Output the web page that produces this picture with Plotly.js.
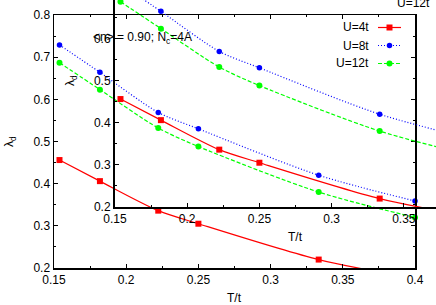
<!DOCTYPE html>
<html>
<head>
<meta charset="utf-8">
<script src="https://cdn.plot.ly/plotly-3.0.1.min.js"></script>
<style>html,body{margin:0;padding:0;background:#fff;}#chart{width:436px;height:305px;}</style>
</head>
<body>
<div id="chart"></div>
<script>
// ---- data ----
var T = [0.1538, 0.1818, 0.2222, 0.25, 0.3333, 0.4];
var U4 = [0.456, 0.406, 0.336, 0.305, 0.220, 0.175];
var U8 = [0.729, 0.664, 0.569, 0.530, 0.420, 0.359];
var U12 = [0.687, 0.623, 0.532, 0.488, 0.380, 0.320];
var seriesNames = ['U=4t', 'U=8t', 'U=12t'];
var xTitle = 'T/t';
var yTitle = 'λ<sub>d</sub>';
var note = '&lt;n&gt; = 0.90; N<sub>c</sub>=4A';

// ---- layout helpers (pixel -> paper) ----
var W = 436, H = 305;
function px(x) { return x / W; }
function py(y) { return 1 - y / H; }
var FONT = {family: 'Liberation Sans, Arial, sans-serif', size: 12, color: '#000'};

var styles = [
  {color: '#ff0000', dash: 'solid', symbol: 'square', size: 6},
  {color: '#0000ff', dash: '1px,2px', symbol: 'circle', size: 5.5},
  {color: '#00ff00', dash: '4px,2px', symbol: 'circle', size: 6}
];
var values = [U4, U8, U12];

var traces = [];
// main plot + shifted duplicate plot (inset-like overlay)
[['x', 'y'], ['x2', 'y2']].forEach(function (ax) {
  values.forEach(function (v, i) {
    traces.push({
      x: T, y: v, xaxis: ax[0], yaxis: ax[1], name: seriesNames[i],
      type: 'scatter', mode: 'lines+markers', showlegend: false, cliponaxis: false,
      line: {color: styles[i].color, width: 1.2, dash: styles[i].dash, shape: 'spline', smoothing: 0.8},
      marker: {color: styles[i].color, symbol: styles[i].symbol, size: styles[i].size, line: {width: 0}}
    });
  });
});

// main plot area: x 54..415, y 15..268 px
var mainX0 = 54, mainX1 = 415, mainY0 = 15, mainY1 = 268;
var shift = 61;
var pxPerX = (mainX1 - mainX0) / 0.25;
var pxPerY = (mainY1 - mainY0) / 0.6;

function axisCommon() {
  return {
    showline: true, linecolor: '#000', linewidth: 1.5, ticks: 'inside', ticklen: 4,
    tickwidth: 1, tickcolor: '#000', showgrid: false, zeroline: false,
    tickfont: FONT, fixedrange: true
  };
}
var xaxis = Object.assign(axisCommon(), {
  domain: [px(mainX0), px(mainX1)], range: [0.15, 0.4], anchor: 'y',
  tickmode: 'linear', tick0: 0.15, dtick: 0.05, mirror: 'ticks',
  minor: {ticks: 'inside', ticklen: 2, dtick: 0.025, tick0: 0.15, tickcolor: '#000'}
});
var yaxis = Object.assign(axisCommon(), {
  domain: [py(mainY1), py(mainY0)], range: [0.2, 0.8], anchor: 'x',
  tickmode: 'linear', tick0: 0.2, dtick: 0.1, mirror: 'ticks',
  minor: {ticks: 'inside', ticklen: 2, dtick: 0.05, tick0: 0.2, tickcolor: '#000'}
});
var insX0 = mainX0 + shift, insY1 = mainY1 - shift;
var xaxis2 = Object.assign(axisCommon(), {
  domain: [px(insX0), 1], range: [0.15, 0.15 + (W - insX0) / pxPerX], anchor: 'y2',
  tickmode: 'linear', tick0: 0.15, dtick: 0.05, linewidth: 2,
  minor: {ticks: 'inside', ticklen: 2, dtick: 0.025, tick0: 0.15, tickcolor: '#000'}
});
var yaxis2 = Object.assign(axisCommon(), {
  domain: [py(insY1), 1], range: [0.2, 0.2 + insY1 / pxPerY], anchor: 'x2',
  tickmode: 'linear', tick0: 0.2, dtick: 0.1, linewidth: 2,
  minor: {ticks: 'inside', ticklen: 2, dtick: 0.05, tick0: 0.2, tickcolor: '#000'}
});

var ann = [];
function txt(t, x, y, xa, extra) {
  ann.push(Object.assign({text: t, x: px(x), y: py(y), xref: 'paper', yref: 'paper',
    xanchor: xa || 'center', yanchor: 'middle', showarrow: false, font: FONT}, extra || {}));
}
// axis titles (main and shifted copy)
txt(xTitle, 234, 298);
txt(yTitle, 10, 142, 'center', {textangle: -90});
txt(xTitle, 234 + shift, 298 - shift);
txt(yTitle, 10 + shift, 142 - shift, 'center', {textangle: -90});
// note
txt(note, 91, 38, 'left');
// partially visible top tick label of the shifted copy
txt('0.7', 110, -4, 'right');

// legend (text on left, sample on right)
var shapes = [];
var legY = [27.5, 45.5, 63.5];
seriesNames.forEach(function (n, i) {
  txt(n, 371, legY[i], 'right');
  shapes.push({type: 'line', xref: 'paper', yref: 'paper', x0: px(378), x1: px(401), y0: py(legY[i]), y1: py(legY[i]),
    line: {color: styles[i].color, width: 1.2, dash: styles[i].dash}});
  var r = styles[i].size / 2, cx = 389.5;
  shapes.push({type: styles[i].symbol === 'square' ? 'rect' : 'circle', xref: 'paper', yref: 'paper',
    x0: px(cx - r), x1: px(cx + r), y0: py(legY[i] + r), y1: py(legY[i] - r),
    fillcolor: styles[i].color, line: {width: 0}});
});
// legend of shifted copy (only last row visible)
txt(seriesNames[2], 371 + shift, legY[2] - shift, 'right');

var layout = {
  width: W, height: H, margin: {l: 0, r: 0, t: 0, b: 0, pad: 0},
  paper_bgcolor: '#fff', plot_bgcolor: 'rgba(0,0,0,0)',
  showlegend: false, font: FONT,
  xaxis: xaxis, yaxis: yaxis, xaxis2: xaxis2, yaxis2: yaxis2,
  annotations: ann, shapes: shapes
};
Plotly.newPlot('chart', traces, layout, {staticPlot: true, displayModeBar: false});
</script>
</body>
</html>
